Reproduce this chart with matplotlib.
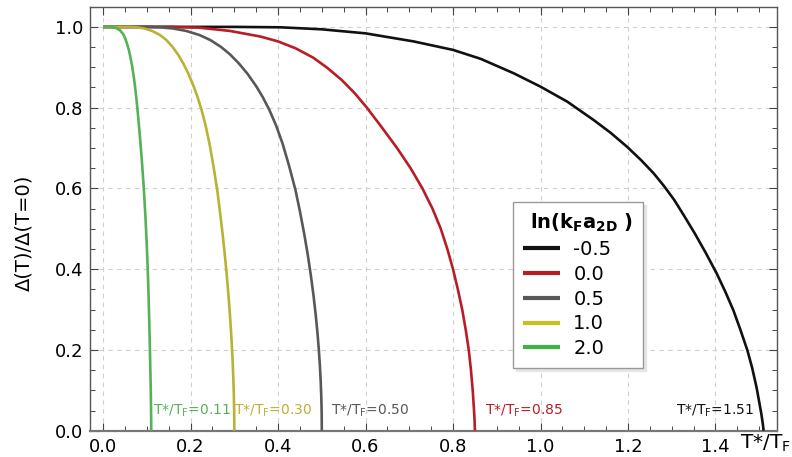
import matplotlib
matplotlib.use("Agg")
import matplotlib.pyplot as plt
from matplotlib.ticker import MultipleLocator

# Gap ratio Delta(T)/Delta(T=0) versus T/T_F for several interaction strengths
ln_kfa = ["-0.5", "0.0", "0.5", "1.0", "2.0"]
t_star = [1.51, 0.85, 0.50, 0.30, 0.11]

t_m05 = [0.0, 0.3, 0.405, 0.5, 0.6, 0.71, 0.8, 0.863, 0.939, 1.0, 1.061, 1.122, 1.16, 1.198,
         1.23, 1.259, 1.283, 1.306, 1.329, 1.353, 1.378, 1.403, 1.423, 1.441, 1.457, 1.473,
         1.484, 1.494, 1.505, 1.5085, 1.51]
d_m05 = [1.0, 1.0, 0.999, 0.994, 0.984, 0.964, 0.943, 0.921, 0.885, 0.852, 0.815, 0.769, 0.738, 0.703,
         0.67, 0.637, 0.605, 0.571, 0.531, 0.488, 0.44, 0.389, 0.343, 0.298, 0.25, 0.199,
         0.155, 0.107, 0.041, 0.015, 0.0]

t_00 = [0.0, 0.15, 0.22, 0.29, 0.36, 0.40, 0.44, 0.48, 0.512, 0.545, 0.575, 0.603, 0.638,
        0.672, 0.703, 0.73, 0.753, 0.772, 0.787, 0.80, 0.811, 0.821, 0.829, 0.836, 0.841,
        0.845, 0.848, 0.8493, 0.85]
d_00 = [1.0, 1.0, 0.998, 0.99, 0.976, 0.964, 0.947, 0.924, 0.899, 0.869, 0.836, 0.80, 0.75,
        0.70, 0.65, 0.60, 0.55, 0.50, 0.45, 0.40, 0.35, 0.30, 0.25, 0.20, 0.15,
        0.10, 0.05, 0.025, 0.0]

t_05 = [0.0, 0.1, 0.13, 0.16, 0.19, 0.22, 0.245, 0.27, 0.29, 0.31, 0.33, 0.35, 0.365, 0.38,
        0.395, 0.41, 0.425, 0.44, 0.45, 0.46, 0.468, 0.475, 0.481, 0.486, 0.49, 0.493,
        0.4955, 0.4973, 0.4987, 0.4996, 0.50]
d_05 = [1.0, 1.0, 0.999, 0.996, 0.99, 0.98, 0.9675, 0.95, 0.932, 0.91, 0.884, 0.853, 0.826, 0.7945,
        0.757, 0.712, 0.6565, 0.595, 0.543, 0.486, 0.435, 0.384, 0.335, 0.2875, 0.243, 0.203,
        0.163, 0.126, 0.088, 0.049, 0.0]

t_10 = [0.0, 0.06, 0.078, 0.095, 0.112, 0.130, 0.1445, 0.159, 0.171, 0.183, 0.195, 0.207, 0.216,
        0.225, 0.234, 0.243, 0.252, 0.261, 0.267, 0.2733, 0.2783, 0.2828, 0.2866, 0.2899,
        0.2926, 0.2947, 0.2965, 0.2978, 0.2989, 0.2996, 0.30]
d_10 = [1.0, 1.0, 0.999, 0.996, 0.99, 0.98, 0.9675, 0.95, 0.932, 0.91, 0.884, 0.853, 0.826,
        0.7945, 0.757, 0.712, 0.6565, 0.595, 0.543, 0.486, 0.435, 0.384, 0.335, 0.2875,
        0.243, 0.203, 0.163, 0.126, 0.088, 0.049, 0.0]

t_20 = [0.0, 0.015, 0.024, 0.032, 0.039, 0.046, 0.051, 0.055, 0.059, 0.062, 0.066, 0.07, 0.073,
        0.0765, 0.0795, 0.084, 0.0886, 0.093, 0.0965, 0.1, 0.102, 0.104, 0.1055, 0.107, 0.108,
        0.109, 0.1095, 0.1099, 0.11]
d_20 = [1.0, 1.0, 0.999, 0.996, 0.991, 0.982, 0.97, 0.957, 0.942, 0.927, 0.905, 0.877, 0.852,
        0.818, 0.785, 0.73, 0.668, 0.60, 0.535, 0.455, 0.40, 0.331, 0.27, 0.20, 0.15,
        0.095, 0.06, 0.025, 0.0]

series_t = [t_m05, t_00, t_05, t_10, t_20]
series_d = [d_m05, d_00, d_05, d_10, d_20]
colors = ["#111111", "#b81d26", "#585858", "#b8b235", "#55b257"]
legend_colors = ["#111111", "#b81d26", "#585858", "#c8c01e", "#3cb444"]

# x position where each T*/T_F annotation starts (right edge for the last one)
label_x = [1.487, 0.872, 0.52, 0.30, 0.114]

W, H = 792, 457
fig = plt.figure(figsize=(W / 100, H / 100), dpi=100)
ax = fig.add_axes([90 / W, (H - 430.7) / H, (776.7 - 90) / W, (430.7 - 6.7) / H])

for t, d, c, lab in zip(series_t, series_d, colors, ln_kfa):
    ax.plot(t, d, color=c, lw=1.9, label=lab, solid_capstyle="butt",
            solid_joinstyle="round", zorder=3)

for ts, c, lx in zip(t_star, colors, label_x):
    txt = "T*/T$_\\mathregular{F}$=%.2f" % ts
    ha = "right" if ts > 1.4 else "left"
    ax.text(lx, 0.028, txt, color=c, fontsize=10, ha=ha, va="bottom", zorder=4)

ax.set_xlim(-0.03, 1.54)
ax.set_ylim(0.0, 1.05)
ax.xaxis.set_minor_locator(MultipleLocator(0.05))
ax.yaxis.set_major_locator(MultipleLocator(0.2))
ax.yaxis.set_minor_locator(MultipleLocator(0.05))
ax.set_xticks([0.0, 0.2, 0.4, 0.6, 0.8, 1.0, 1.2, 1.4])
ax.set_xticklabels(["0.0", "0.2", "0.4", "0.6", "0.8", "1.0", "1.2", "1.4"])
ax.tick_params(which="both", direction="in", top=True, right=True, color="#444444")
ax.tick_params(which="major", length=6, width=0.8, labelsize=13, pad=5)
ax.tick_params(which="minor", length=3.5, width=0.7)
for s in ax.spines.values():
    s.set_color("#555555")
    s.set_linewidth(1.0)
ax.spines["bottom"].set_color("#777777")
ax.spines["bottom"].set_linewidth(1.6)

ax.grid(True, which="major", color="#cfcfcf", lw=0.8, ls=(0, (4, 4)), zorder=0)
ax.set_axisbelow(True)

ax.set_ylabel("\u0394(T)/\u0394(T=0)", fontsize=14)
ax.yaxis.set_label_coords(-0.083, 0.466)
fig.text(740 / W, 1 - 443 / H, "T*/T$_\\mathregular{F}$", fontsize=14.5, ha="left", va="center")

leg = ax.legend(
    title=r"$\mathbf{ln(k}_{\mathbf{F}}\mathbf{a}_{\mathbf{2D}}\ \mathbf{)}$",
    loc="upper left",
    bbox_to_anchor=(513 / W, (H - 372) / H, 130 / W, 170 / H),
    bbox_transform=fig.transFigure,
    mode="expand",
    fontsize=14,
    title_fontsize=14,
    frameon=True,
    fancybox=False,
    shadow={"color": "#e6e6e6", "alpha": 1.0},
    handlelength=1.9,
    handletextpad=0.7,
    labelspacing=0.3,
    borderpad=0.5,
    borderaxespad=0.0,
)
leg._legend_box.align = "right"
leg.get_frame().set_edgecolor("#999999")
leg.get_frame().set_linewidth(1.0)
for line, c in zip(leg.get_lines(), legend_colors):
    line.set_linewidth(3.0)
    line.set_color(c)

fig.savefig("out.png", dpi=100)
